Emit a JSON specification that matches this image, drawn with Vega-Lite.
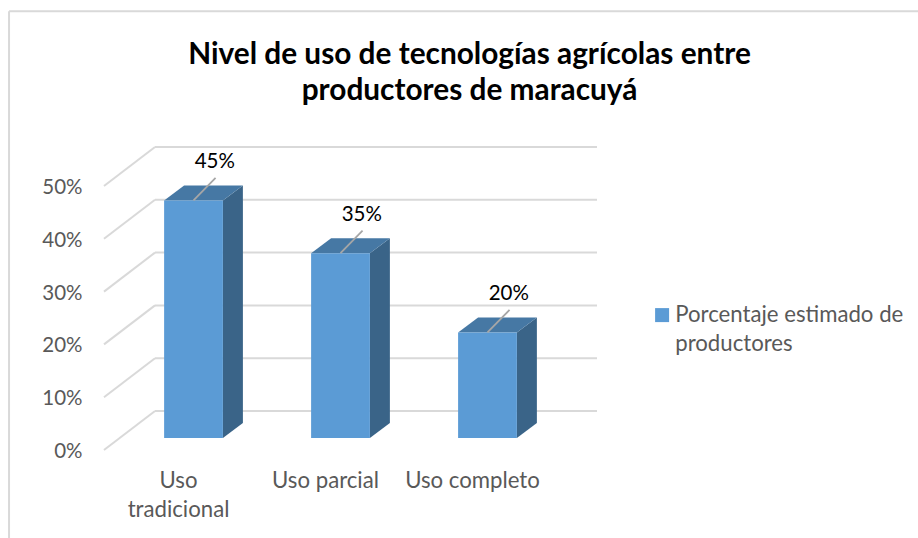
{
"$schema":"https://vega.github.io/schema/vega-lite/v6.json",
"width":493,"height":302,
"autosize":"none",
"padding":{"left":104,"top":148,"right":321,"bottom":88},
"background":"#ffffff",
"title":{"text":["Nivel de uso de tecnologías agrícolas entre","productores de maracuyá"],"font":"Lato","fontWeight":"bold","fontSize":29.8,"color":"#000000","lineHeight":36,"anchor":"middle","dx":119,"offset":-96},
"datasets":{
"productores":[
{"categoria":"Uso tradicional","valor":0.45,"serie":"Porcentaje estimado de productores"},
{"categoria":"Uso parcial","valor":0.35,"serie":"Porcentaje estimado de productores"},
{"categoria":"Uso completo","valor":0.20,"serie":"Porcentaje estimado de productores"}],
"marcas":[{"v":0},{"v":0.1},{"v":0.2},{"v":0.3},{"v":0.4},{"v":0.5}]
},
"layer":[
{"data":{"name":"marcas"},
 "transform":[{"calculate":"-0.262","as":"x0"},{"calculate":"2.745","as":"x1"},{"calculate":"datum.v+0.0739","as":"yb"}],
 "mark":{"type":"rule","color":"#D9D9D9","strokeWidth":2},
 "encoding":{
  "x":{"field":"x0","type":"quantitative","scale":{"domain":[-0.609,2.745],"nice":false,"zero":false},
   "axis":{"title":null,"values":[0,1,2],"domain":false,"ticks":false,"grid":false,"labelPadding":19,"labelOffset":-15.5,"labelFont":"Lato","labelFontSize":22.2,"labelColor":"#595959","labelOverlap":false,"labelFlush":false,"labelLimit":300,
    "labelExpr":"datum.value==0?['Uso','tradicional']:datum.value==1?'Uso parcial':'Uso completo'"}},
  "x2":{"field":"x1"},
  "y":{"field":"yb","type":"quantitative","scale":{"domain":[0,0.572],"nice":false},
   "axis":{"title":null,"values":[0,0.1,0.2,0.3,0.4,0.5],"format":".0%","domain":false,"ticks":false,"grid":false,"labelPadding":22,"labelOffset":1.5,"labelFont":"Lato","labelFontSize":20.5,"labelColor":"#595959"}}
 }},
{"data":{"name":"marcas"},
 "transform":[{"calculate":"-0.609","as":"x0"},{"calculate":"-0.262","as":"x1"},{"calculate":"datum.v+0.0739","as":"yb"}],
 "mark":{"type":"rule","color":"#D9D9D9","strokeWidth":2},
 "encoding":{
  "x":{"field":"x0","type":"quantitative","scale":{"domain":[-0.609,2.745],"nice":false,"zero":false}},"x2":{"field":"x1"},
  "y":{"field":"v","type":"quantitative","scale":{"domain":[0,0.572],"nice":false}},"y2":{"field":"yb"}
 }},
{"data":{"name":"productores"},
 "transform":[{"calculate":"indexof(['Uso tradicional','Uso parcial','Uso completo'],datum.categoria)","as":"c"},
  {"calculate":"[0,1]","as":"t"},{"flatten":["t"]},
  {"calculate":"datum.c+0.2+datum.t*0.136","as":"px"},
  {"calculate":"datum.valor+0.0227+datum.t*0.0284","as":"arriba"},
  {"calculate":"0.0227+datum.t*0.0284","as":"abajo"}],
 "mark":{"type":"area","color":"#3A6488","interpolate":"linear"},
 "encoding":{
  "x":{"field":"px","type":"quantitative","scale":{"domain":[-0.609,2.745],"nice":false,"zero":false}},
  "y":{"field":"arriba","type":"quantitative","scale":{"domain":[0,0.572],"nice":false}},"y2":{"field":"abajo"},
  "detail":{"field":"categoria"}
 }},
{"data":{"name":"productores"},
 "transform":[{"calculate":"indexof(['Uso tradicional','Uso parcial','Uso completo'],datum.categoria)","as":"c"},
  {"calculate":"[0,1,2,3]","as":"t"},{"flatten":["t"]},
  {"calculate":"datum.c-0.2+[0,0.136,0.4,0.536][datum.t]","as":"px"},
  {"calculate":"datum.valor+0.0227+(datum.t==0?0:0.0284)","as":"arriba"},
  {"calculate":"datum.valor+0.0227+(datum.t==3?0.0284:0)","as":"abajo"}],
 "mark":{"type":"area","color":"#4678A4","interpolate":"linear"},
 "encoding":{
  "x":{"field":"px","type":"quantitative","scale":{"domain":[-0.609,2.745],"nice":false,"zero":false}},
  "y":{"field":"arriba","type":"quantitative","scale":{"domain":[0,0.572],"nice":false}},"y2":{"field":"abajo"},
  "detail":{"field":"categoria"}
 }},
{"data":{"name":"productores"},
 "transform":[{"calculate":"indexof(['Uso tradicional','Uso parcial','Uso completo'],datum.categoria)","as":"c"},
  {"calculate":"datum.c-0.2","as":"x0"},{"calculate":"datum.c+0.2","as":"x1"},
  {"calculate":"0.0227","as":"abajo"},{"calculate":"datum.valor+0.0227","as":"arriba"}],
 "mark":{"type":"rect"},
 "encoding":{
  "x":{"field":"x0","type":"quantitative","scale":{"domain":[-0.609,2.745],"nice":false,"zero":false}},"x2":{"field":"x1"},
  "y":{"field":"abajo","type":"quantitative","scale":{"domain":[0,0.572],"nice":false}},"y2":{"field":"arriba"},
  "color":{"field":"serie","type":"nominal","scale":{"range":["#5B9BD5"]},
   "legend":{"title":null,"orient":"none","legendX":547,"legendY":156,"symbolType":"square","symbolSize":196,"symbolStrokeWidth":0,"labelOffset":2,"padding":0,"labelFont":"Lato","labelFontSize":22.2,"labelColor":"#595959","labelLimit":400,
    "labelExpr":"['Porcentaje estimado de','productores']"}}
 }},
{"data":{"name":"productores"},
 "transform":[{"calculate":"indexof(['Uso tradicional','Uso parcial','Uso completo'],datum.categoria)","as":"c"},
  {"calculate":"datum.c+0.15","as":"x1"},
  {"calculate":"datum.valor+0.0227","as":"y0"},{"calculate":"datum.valor+0.0653","as":"y1"}],
 "mark":{"type":"rule","color":"#A6A6A6","strokeWidth":1.8},
 "encoding":{
  "x":{"field":"c","type":"quantitative","scale":{"domain":[-0.609,2.745],"nice":false,"zero":false}},"x2":{"field":"x1"},
  "y":{"field":"y0","type":"quantitative","scale":{"domain":[0,0.572],"nice":false}},"y2":{"field":"y1"}
 }},
{"data":{"name":"productores"},
 "transform":[{"calculate":"indexof(['Uso tradicional','Uso parcial','Uso completo'],datum.categoria)","as":"c"},
  {"calculate":"datum.c+0.145","as":"x1"},
  {"calculate":"datum.valor+0.095","as":"y1"}],
 "mark":{"type":"text","font":"Lato","fontSize":20.5,"color":"#000000","align":"center","baseline":"middle"},
 "encoding":{
  "x":{"field":"x1","type":"quantitative","scale":{"domain":[-0.609,2.745],"nice":false,"zero":false}},
  "y":{"field":"y1","type":"quantitative","scale":{"domain":[0,0.572],"nice":false}},
  "text":{"field":"valor","type":"quantitative","format":".0%"}
 }},
{"data":{"values":[{}]},
 "mark":{"type":"rule","color":"#D9D9D9","strokeWidth":2,"clip":false},
 "encoding":{"x":{"datum":-1.255,"type":"quantitative","scale":{"domain":[-0.609,2.745],"nice":false,"zero":false}},"y":{"datum":0.831,"type":"quantitative","scale":{"domain":[0,0.572],"nice":false}},"y2":{"datum":-0.167}}},
{"data":{"values":[{}]},
 "mark":{"type":"rule","color":"#D9D9D9","strokeWidth":2,"clip":false},
 "encoding":{"x":{"datum":-1.255,"type":"quantitative","scale":{"domain":[-0.609,2.745],"nice":false,"zero":false}},"x2":{"datum":4.93},"y":{"datum":0.831,"type":"quantitative","scale":{"domain":[0,0.572],"nice":false}}}}
],
"config":{"view":{"stroke":null},"style":{"guide-label":{"lineHeight":29}}}
}
